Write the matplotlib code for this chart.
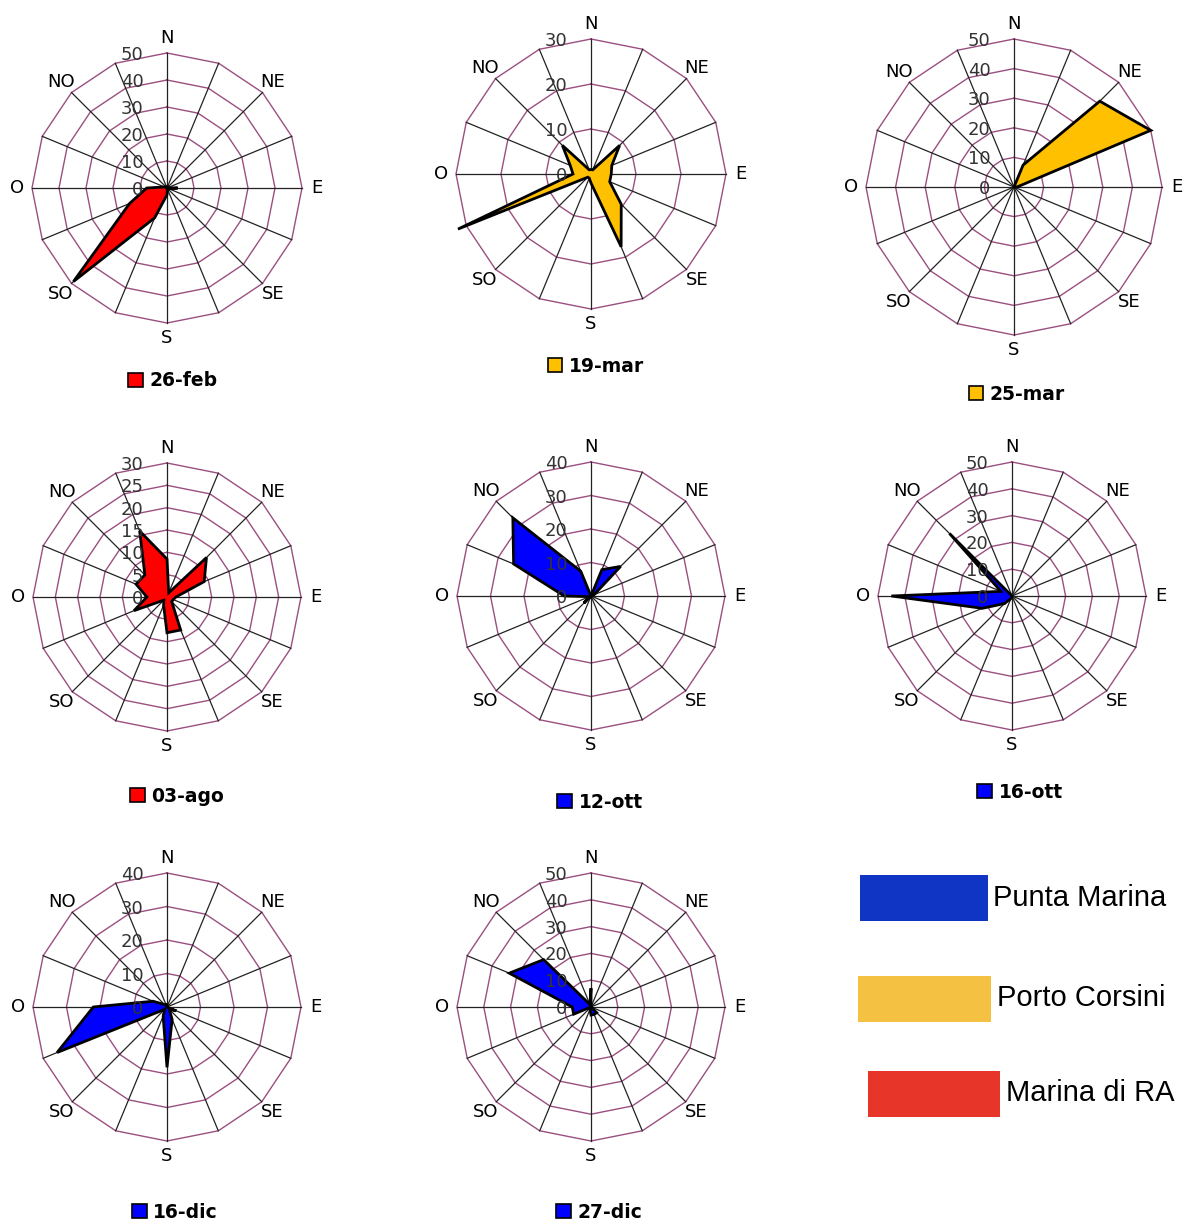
import numpy as np
import matplotlib.pyplot as plt
from matplotlib.patches import Patch, Rectangle

# 16 compass sectors, clockwise from north (Italian labels)
directions = ['N', 'NNE', 'NE', 'ENE', 'E', 'ESE', 'SE', 'SSE',
              'S', 'SSO', 'SO', 'OSO', 'O', 'ONO', 'NO', 'NNO']
dir_labels = ['N', '', 'NE', '', 'E', '', 'SE', '',
              'S', '', 'SO', '', 'O', '', 'NO', '']

dates = ['26-feb', '19-mar', '25-mar', '03-ago', '12-ott', '16-ott', '16-dic', '27-dic']

# frequency per sector
feb26 = [0.5, 0.5, 0, 0, 4, 0.5, 0, 0.5, 2.5, 12, 49, 15, 7.5, 1, 0.5, 0.5]
mar19 = [1, 1, 9, 5, 4.5, 4.5, 9.5, 17.5, 2, 1, 1, 32, 4, 5, 9, 1]
mar25 = [0, 8, 41, 50, 1, 0, 0, 0, 0, 0, 0, 0, 0, 0, 0, 0]
ago03 = [8.5, 1, 12.5, 9, 2, 1.5, 1.5, 8, 8, 2, 1, 8, 4.5, 7.5, 7, 16]
ott12 = [0, 8.5, 12.5, 1, 0, 0, 0, 0, 0, 0, 3, 0.5, 8, 25, 33, 8]
ott16 = [0, 0, 0, 0, 0, 0, 0, 0, 0, 1, 4, 12, 45, 4.5, 33, 0]
dic16 = [1, 0, 0, 0, 0, 3, 1, 4, 18, 3, 1, 35.5, 22, 4.5, 1, 0.5]
dic27 = [7, 0, 0, 0, 0, 0, 3, 3, 3, 1, 0, 7, 7, 33, 25, 1]
series = [feb26, mar19, mar25, ago03, ott12, ott16, dic16, dic27]

scale_max = [50, 30, 50, 30, 40, 50, 40, 50]
scale_step = [10, 10, 10, 5, 10, 10, 10, 10]

stations = ['Marina di RA', 'Porto Corsini', 'Porto Corsini', 'Marina di RA',
            'Punta Marina', 'Punta Marina', 'Punta Marina', 'Punta Marina']
fill_colors = {'Punta Marina': '#0000ff', 'Porto Corsini': '#ffc000', 'Marina di RA': '#ff0000'}

key_names = ['Punta Marina', 'Porto Corsini', 'Marina di RA']
key_colors = ['#1034c4', '#f4c142', '#e8352a']

# layout in pixels: chart centre, radius, legend centre
W, H = 1183, 1224
centers = [(167, 188), (591, 174), (1014, 187), (167, 597), (591, 596), (1012, 596), (167, 1007), (591, 1007)]
radii = [135, 135, 148, 134, 134, 134, 134, 134]
legend_xy = [(173, 381), (596, 366), (1017, 394), (177, 796), (600, 802), (1020, 792), (175, 1212), (599, 1212)]
key_boxes = [(860, 875, 128, 46), (858, 976, 133, 46), (868, 1071, 132, 46)]
key_text = [(993, 898), (997, 998), (1006, 1093)]

ring_color = '#9b4f80'
spoke_color = '#222222'

fig = plt.figure(figsize=(W / 100, H / 100), dpi=100)
fig.patch.set_facecolor('white')

# colour key panel (bottom right)
kax = fig.add_axes([0, 0, 1, 1])
kax.set_xlim(0, W)
kax.set_ylim(H, 0)
kax.axis('off')
for (x, y, w, h), c, name, (tx, ty) in zip(key_boxes, key_colors, key_names, key_text):
    kax.add_patch(Rectangle((x, y), w, h, facecolor=c, edgecolor='none'))
    kax.text(tx, ty, name, ha='left', va='center', fontsize=21, family='Liberation Sans')

theta = np.deg2rad(np.arange(len(directions)) * 22.5)
closed = np.append(theta, theta[0])

for vals, date, vmax, step, st, (cx, cy), R, (lx, ly) in zip(
        series, dates, scale_max, scale_step, stations, centers, radii, legend_xy):
    ax = fig.add_axes([(cx - R) / W, 1 - (cy + R) / H, 2 * R / W, 2 * R / H], projection='polar')
    ax.set_theta_zero_location('N')
    ax.set_theta_direction(-1)
    ax.set_ylim(0, vmax)
    ax.grid(False)
    ax.set_xticks([])
    ax.set_yticks([])
    ax.spines['polar'].set_visible(False)
    ax.set_facecolor('none')

    # polygon rings + spokes
    for lev in np.arange(step, vmax + step / 2, step):
        ax.plot(closed, [lev] * len(closed), color=ring_color, lw=1, zorder=1, clip_on=False)
    for t in theta:
        ax.plot([t, t], [0, vmax], color=spoke_color, lw=0.9, zorder=1, clip_on=False)

    v = np.append(vals, vals[0])
    ax.fill(closed, v, facecolor=fill_colors[st], edgecolor='black', lw=2,
            zorder=3, clip_on=False)

    # value labels along north axis
    for lev in np.arange(0, vmax + step / 2, step):
        ax.annotate(f'{lev:g}', xy=(0, lev), xytext=(-17, -1.5), textcoords='offset points',
                    ha='right', va='center', fontsize=13, color='#333333',
                    zorder=5, annotation_clip=False)

    for t, lab in zip(theta, dir_labels):
        if lab:
            ax.text(t, vmax * (1 + 15 / R), lab, ha='center', va='center',
                    fontsize=13, color='black', clip_on=False)

    bx = (lx - (cx - R)) / (2 * R)
    by = 1 - (ly - (cy - R)) / (2 * R)
    ax.legend(handles=[Patch(facecolor=fill_colors[st], edgecolor='black', lw=1.2)],
              labels=[date], loc='center', bbox_to_anchor=(bx, by), frameon=False,
              prop={'weight': 'bold', 'size': 13.5}, handlelength=0.78, handleheight=0.78,
              handletextpad=0.35, borderpad=0, borderaxespad=0)

fig.savefig('out.png', dpi=100, facecolor='white')
